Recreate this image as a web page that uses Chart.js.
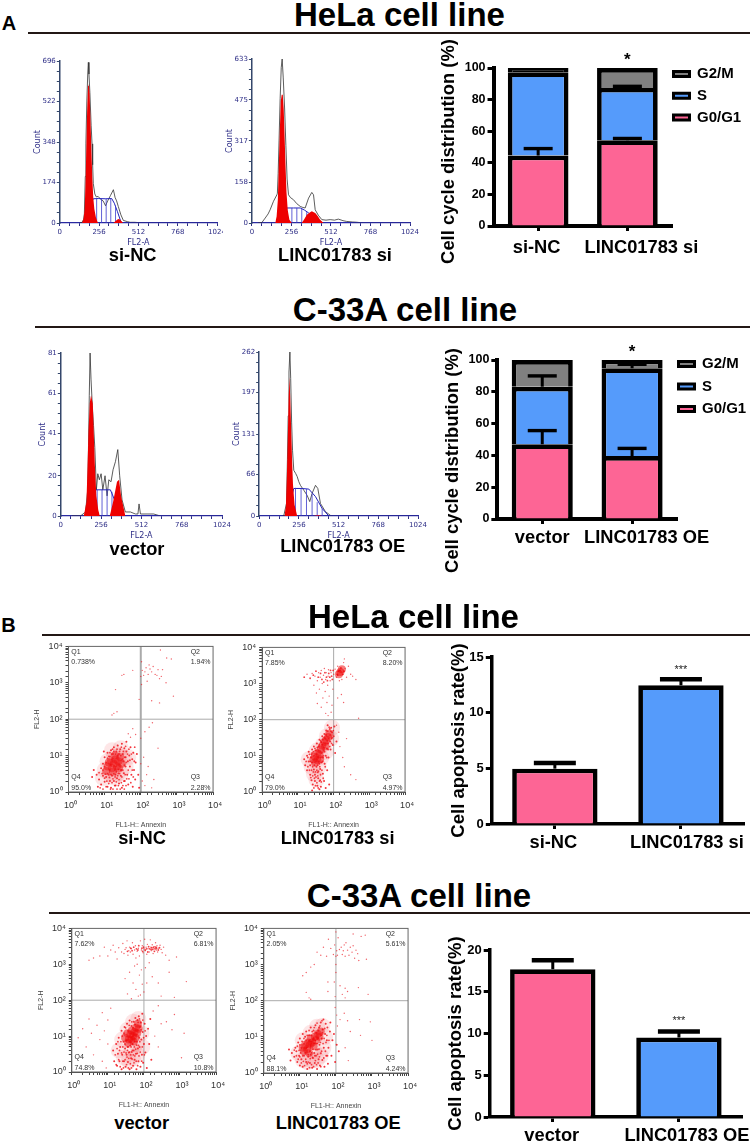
<!DOCTYPE html>
<html><head><meta charset="utf-8">
<script src="https://cdn.jsdelivr.net/npm/chart.js@4/dist/chart.umd.min.js"></script>
<style>
html,body{margin:0;padding:0;background:#fff;width:754px;height:1144px;overflow:hidden}
body{position:relative;font-family:"Liberation Sans",Arial,sans-serif;color:#000}
canvas{position:absolute}
.t{position:absolute;transform:translate(-50%,-50%);white-space:nowrap;font-weight:bold;line-height:1;z-index:5}
.r{position:absolute;background:#231815;height:2px}
</style></head><body>
<script>
/* ---------- DNA histograms: [channel, count] ---------- */
const hiLabelsY1=[0,174,348,522,696], hiLabelsY2=[0,158,317,475,633], hiLabelsY3=[0,20,41,61,81], hiLabelsY4=[0,66,131,197,262];
const hiLabelsX=[0,256,512,768,1024];
const trace1=[[130,0],[145,3],[155,15],[160,40],[166,200],[170,340],[176,520],[182,640],[186,690],[190,640],[196,560],[204,420],[210,340],[214,250],[218,170],[228,125],[238,112],[250,114],[262,105],[270,100],[282,95],[298,74],[312,95],[330,118],[349,143],[360,110],[370,95],[381,71],[398,35],[414,11],[440,6],[458,3],[490,3],[520,1],[560,0],[1024,0]];
const g1fit1=[[145,0],[155,20],[162,60],[168,180],[172,300],[178,480],[184,590],[188,600],[194,560],[200,440],[206,310],[212,190],[218,110],[225,60],[235,25],[245,5],[250,0]];
const sfit1=[[163,0],[178,35],[195,75],[218,104],[250,105],[300,104],[338,105],[355,85],[375,50],[397,7],[405,0],[1024,0]];
const g2fit1=[[350,0],[362,8],[375,15],[385,17],[395,13],[405,5],[412,0]];
const hatchX1=[240,272,302,332,363], hatchY1=[105,105,104,104,75];
const trace2=[[40,0],[65,2],[86,19],[105,35],[118,51],[140,84],[162,109],[165,115],[170,190],[176,320],[183,480],[190,600],[196,633],[203,560],[212,440],[220,300],[228,170],[237,109],[250,98],[269,90],[290,75],[313,64],[330,60],[345,58],[367,96],[388,118],[399,109],[410,51],[430,30],[453,13],[480,11],[507,13],[535,11],[560,15],[590,9],[614,6],[650,4],[679,3],[722,0],[1024,0]];
const g1fit2=[[151,0],[160,25],[168,90],[174,220],[180,340],[187,470],[193,495],[200,495],[206,440],[212,330],[218,220],[224,120],[232,50],[243,13],[259,0]];
const sfit2=[[162,0],[194,26],[226,58],[270,58],[313,58],[340,50],[367,39],[420,13],[453,0],[1024,0]];
const g2fit2=[[323,0],[340,15],[356,32],[372,40],[388,45],[410,39],[425,28],[442,13],[464,0]];
const hatchX2=[226,259,291,323,355], hatchY2=[58,58,58,56,42];
const trace3=[[70,0],[125,0],[157,2],[171,13],[176,35],[181,60],[186,81],[192,68],[200,55],[208,45],[216,34],[226,13],[235,21],[245,18],[256,21],[267,13],[281,20],[294,10],[305,18],[319,17],[332,23],[347,27],[362,33],[374,20],[389,8],[410,2],[442,2],[474,1],[490,1],[497,6],[506,1],[548,1],[590,1],[633,0],[1024,0]];
const g1fit3=[[146,0],[163,7],[170,25],[176,42],[184,56],[192,60],[203,56],[210,40],[216,26],[226,10],[238,3],[248,0]];
const sfit3=[[163,0],[188,5],[220,13],[270,13],[315,13],[347,7],[374,0],[1024,0]];
const g2fit3=[[311,0],[332,7],[357,17],[370,18],[383,10],[410,0]];
const hatchX3=[231,262,294,325], hatchY3=[13,13,13,12];
const trace4=[[150,0],[159,1],[176,20],[182,90],[187,160],[192,230],[198,262],[203,220],[209,150],[215,105],[223,73],[235,68],[245,63],[255,55],[266,49],[288,41],[309,33],[326,23],[341,36],[363,49],[378,44],[395,20],[427,7],[459,1],[480,0],[1024,0]];
const g1fit4=[[163,0],[172,15],[178,60],[184,120],[190,190],[195,222],[200,190],[206,140],[212,90],[218,50],[228,18],[245,0]];
const sfit4=[[176,0],[198,20],[223,44],[270,44],[320,43],[363,31],[406,12],[449,0],[1024,0]];
const g2fit4=[[350,0],[380,1],[410,0]];
const hatchX4=[234,270,305,341,374,406], hatchY4=[45,44,43,35,22,12];

/* ---------- Stacked cell-cycle bars ---------- */
const hCats=['si-NC','LINC01783 si'];
const hG0G1=[44.6,54.3], hS=[52.7,33.1], hG2M=[2.7,12.6];
const hErrG0G1=[49,55.4], hErrS=[null,88.4];
const cCats=['vector','LINC01783 OE'];
const cG0G1=[47,39.6], cS=[36.2,55.2], cG2M=[16.8,5.2];
const cErrG0G1=[55.6,44.4], cErrS=[90,97.3];
const starsStack=['','*'];

/* ---------- Apoptosis bars ---------- */
const apoHvals=[4.97,12.46], apoHerr=[5.48,13.0];
const apoCvals=[17.7,9.52], apoCerr=[18.76,10.24];
const apoHstars=['','***'], apoCstars=['','***'];

/* ---------- Annexin scatter: [FL1-H, FL2-H] ---------- */
const quadHsi=['0.738%','1.94%','2.28%','95.0%'], quadHl=['7.85%','8.20%','4.97%','79.0%'], quadCv=['7.62%','6.81%','10.8%','74.8%'], quadCo=['2.05%','5.61%','4.24%','88.1%'];
const dec={1:'10⁰',10:'10¹',100:'10²',1000:'10³',10000:'10⁴'};
const haloS1=[[10,4],[14,3],[18,2.5],[22,3],[28,3.2],[12,7],[18,9],[26,10],[34,9],[38,5],[9,2.4],[16,14],[28,16],[45,9]];
const coreS1=[[12,5],[15,7],[18,6],[20,8],[24,7],[16,4.5],[22,5],[27,9],[13,6.5],[19,10],[30,6],[11,3.8],[17,3.6],[25,4.4]];
const midS1=[[6,3],[7,2.2],[8,4.5],[8,1.6],[9,6],[9,2.8],[10,9],[10,1.9],[11,2.6],[12,12],[12,1.4],[13,3],[14,9.5],[14,2],[15,14],[15,1.3],[16,2.8],[17,11],[18,2],[18,17],[20,3],[20,1.5],[21,13],[22,2.4],[23,19],[24,3.2],[25,11],[25,1.7],[27,15],[28,2.8],[29,4],[30,21],[30,1.3],[32,11],[33,7],[34,3.3],[35,16],[36,2],[38,9],[38,5],[40,13],[40,24],[42,3],[44,7],[45,1.6],[48,10],[50,5],[52,17],[55,3],[58,8],[60,1.4],[62,12],[65,4],[70,2.2],[72,6.5],[78,11],[85,3],[90,1.3],[5,4],[4.5,2.6],[6.5,1.4],[9.5,13]];
const stipS1=[[7,3.4],[7.5,1.3],[8.5,3.2],[9,1.2],[9,4],[10,2.4],[10,5],[10.5,3.1],[11,1.4],[11,6.5],[11.5,2],[12,3.2],[12,8.5],[13,1.7],[13,9.5],[13.5,2.5],[14,4],[14,12],[14.5,1.2],[15,3],[15.5,11],[16,1.8],[16,8],[16.5,15],[17,2.3],[17,1.2],[18,3.2],[18,13],[19,1.5],[19,4],[19.5,2.6],[20,11],[21,1.9],[21,3.6],[22,1.2],[22,15],[23,2.8],[23,10],[24,1.5],[24,4.2],[25,2.2],[26,13],[26,3.2],[27,1.2],[28,4],[28,10],[29,1.8],[29,17],[30,2.6],[31,8],[32,1.5],[32,4],[33,13],[34,2],[35,5.5],[35,1.2],[36,9],[37,3],[38,18],[39,1.5],[40,6.5],[41,2.3],[43,11],[45,4],[47,2.3],[47,15],[50,7.5],[53,1.8],[55,11],[58,4],[62,2.6],[66,7],[68,17]];
const sparseS1=[[100,6],[110,2],[120,9],[130,1.5],[145,3],[160,5],[200,1.3],[230,2.2],[300,16],[52,32],[45,40],[60,55],[72,38],[100,30],[130,45],[170,60],[210,80],[16,130],[18,145],[22,160],[20,650],[30,1600],[34,1700],[60,2200],[100,1500],[105,3800],[110,2200],[120,1600],[130,2000],[140,2600],[160,1700],[180,2400],[200,2000],[220,2800],[250,1700],[280,1600],[300,2300],[330,1300],[370,1500],[400,2300],[500,1000],[520,4800],[700,4500],[800,430],[350,8000],[150,1100],[170,3100],[90,350],[105,900],[200,320],[330,280]];
const haloS2=[[20,8],[24,5],[28,3.2],[33,2.2],[38,5],[34,14],[45,9],[50,20],[60,13],[65,35],[85,30],[90,60]];
const coreS2=[[27,8],[30,9.5],[35,12],[40,11],[44,15],[48,19],[55,24],[62,28],[70,33],[75,40],[35,7.5],[42,8],[58,18],[30,6.5],[140,1800],[155,2100],[170,2500]];
const midS2=[[15,8],[16,5.5],[18,10],[18,4],[20,7],[20,13],[22,3],[22,5.5],[24,11],[24,2.1],[25,15],[26,1.6],[28,4.2],[28,18],[30,3],[30,2],[32,14],[33,5],[34,22],[35,1.5],[36,3.5],[37,2.4],[38,18],[40,6],[40,28],[42,4.3],[42,2.1],[44,1.4],[45,24],[46,6.5],[48,35],[50,9],[50,3.2],[52,14],[54,2],[55,40],[56,6],[58,30],[60,10],[62,50],[65,16],[66,4],[68,70],[70,22],[72,9],[75,1.6],[78,55],[80,25],[82,15],[85,60],[88,30],[90,45],[95,20],[100,35],[105,65],[110,12],[60,1.3],[40,1.2],[25,1.1],[120,25]];
const stipS2=[[17,7],[19,5],[19,9],[21,4],[21,11],[22,7],[23,2.5],[23,9],[24,4],[25,6.5],[25,12],[26,2.8],[26,5],[27,3.6],[27,13],[28,1.3],[28,10],[29,2.4],[29,5.5],[30,16],[31,3.6],[31,1.5],[32,7],[32,2.6],[33,11],[34,1.8],[34,4],[35,17],[36,5.5],[36,2.8],[37,9],[37,1.3],[38,3.8],[38,14],[39,7],[40,2],[40,20],[41,5],[42,13],[43,3],[43,26],[44,9],[45,1.9],[46,12],[47,4],[48,20],[49,7],[50,28],[51,2.4],[52,10],[53,17],[55,32],[56,13],[58,5],[60,22],[62,38],[64,9],[66,26],[68,48],[70,15],[72,30],[75,62],[78,18],[80,38],[84,48],[88,22],[92,32],[98,50],[15,1500],[22,1400],[27,1700],[32,2200],[37,1500],[43,1900],[47,1300],[53,1100],[57,2000],[63,1500],[67,1200],[73,1900],[78,1500],[82,2300],[88,1600],[92,1300],[97,2300],[125,1800],[135,2200],[160,2700],[180,1800],[195,2200],[130,1700],[150,2300]];
const sparseS2=[[18,1800],[25,1900],[28,900],[30,1600],[33,550],[35,1200],[38,2000],[40,700],[42,1500],[45,2300],[48,1000],[50,400],[52,1700],[55,2600],[58,600],[60,1300],[62,2000],[65,300],[68,900],[70,1600],[72,2400],[75,450],[80,1200],[85,2000],[90,250],[95,700],[60,150],[45,220],[70,130],[85,160],[35,280],[100,1800],[110,2500],[120,1500],[130,3000],[145,1200],[170,1300],[190,3800],[200,4800],[210,2600],[230,1500],[260,3000],[300,1800],[340,1600],[420,1300],[130,400],[165,500],[190,300],[500,110],[150,18],[180,9],[200,5],[230,30],[300,3],[420,2.2],[140,45],[120,70]];
const haloS3=[[20,4],[28,2.5],[38,2],[50,2.4],[65,3],[25,8],[35,15],[50,25],[70,30],[85,12],[90,5],[45,4.5],[60,6]];
const coreS3=[[30,9],[35,12],[38,8],[42,11],[46,14],[50,10],[55,13],[60,17],[65,12],[68,22],[72,16],[45,8],[58,9],[36,6.5],[52,7]];
const midS3=[[14,4],[15,2],[17,6],[18,1.5],[19,3.2],[20,9],[21,2],[22,5],[24,14],[24,1.2],[25,3],[27,7],[28,2],[29,18],[30,4.5],[31,1.4],[33,3],[34,22],[35,5],[36,1.9],[38,3.5],[40,27],[40,1.2],[42,5.5],[44,2.4],[45,19],[46,3.6],[48,6],[50,1.5],[52,25],[52,4],[55,2.2],[56,7],[58,32],[60,3.2],[62,1.2],[64,7],[66,28],[68,4.5],[70,2],[72,36],[74,9],[76,5],[78,18],[80,1.4],[82,24],[85,8],[88,3],[90,42],[92,13],[95,1.8],[100,6],[105,22],[110,3.5],[115,10],[120,1.3],[130,16],[140,6],[150,30],[160,2.2]];
const stipS3=[[16,3],[17,1.6],[18,4.5],[19,7],[20,2.2],[21,4],[22,1.4],[23,7],[24,3.4],[25,10],[26,2],[26,5],[27,1.3],[28,3.6],[28,12],[30,2.2],[30,6],[31,17],[32,3.4],[33,1.6],[33,7.5],[34,2.6],[35,4],[36,14],[37,1.3],[37,5],[38,2.4],[39,20],[40,3.6],[41,7],[42,1.7],[43,3],[44,5],[45,1.3],[46,25],[47,2.3],[48,4],[49,6],[50,17],[51,3],[53,1.8],[54,5],[56,2.8],[57,21],[59,4.3],[61,2],[63,5.6],[65,3.3],[67,1.5],[69,24],[71,5.5],[73,2.8],[75,30],[77,7],[79,3.6],[83,15],[87,2],[90,5],[93,28],[98,9],[103,3],[108,14],[35,2300],[43,2800],[47,2400],[52,3000],[62,2700],[68,2500],[72,3300],[88,2800],[92,2300],[98,3000],[108,2500],[118,2700],[128,2200],[135,3100],[145,2700],[158,2600],[165,2900],[175,2600],[185,3000],[195,2300],[205,2700],[215,3000],[225,2800],[250,2500],[270,2900]];
const sparseS3=[[1.5,9],[2,16],[2.5,5],[3,30],[3.5,12],[4,3],[5,20],[6,8],[7,45],[7,2],[8,14],[9,1.3],[10,28],[10,6],[12,60],[200,10],[250,5],[300,22],[180,50],[250,70],[420,25],[600,15],[700,40],[1100,2.5],[1300,12],[3,1300],[4,1500],[6,1700],[8,3000],[10,1700],[12,2500],[14,3400],[16,2200],[18,1400],[20,2900],[24,2200],[26,3800],[28,2000],[30,2600],[32,2900],[34,4500],[36,1800],[38,2400],[40,3000],[42,2200],[45,2700],[48,4000],[50,1900],[55,2500],[58,3300],[60,1500],[65,2300],[70,2800],[75,1700],[80,4500],[85,2500],[90,3300],[95,2100],[100,2700],[105,5000],[110,2400],[115,3000],[120,1900],[125,3600],[130,2700],[140,2200],[150,4800],[155,3000],[160,2400],[170,3500],[180,2000],[190,2700],[200,3100],[210,4000],[220,2500],[230,3300],[240,2200],[260,2800],[280,3400],[300,2600],[320,2100],[350,3000],[400,1800],[500,1300],[800,1600],[30,400],[35,150],[40,600],[45,110],[50,300],[55,900],[60,200],[65,1000],[70,130],[75,500],[80,140],[85,700],[90,280],[100,170],[110,800],[120,300],[140,1100],[170,450],[250,300],[300,130],[700,120],[1500,330],[500,600]];
const haloS4=[[9,3.5],[12,2.3],[16,2],[22,2.2],[30,2.3],[38,3],[12,8],[20,13],[30,19],[42,20],[50,10],[45,5],[25,4]];
const coreS4=[[12,5],[14,6],[16,4.5],[17,7],[19,6],[20,9],[22,7],[24,5.5],[26,10],[28,8],[31,12],[35,10],[38,14],[18,3.6],[13,4]];
const midS4=[[6,3.6],[7,2.8],[7.5,5],[8,4],[8.5,2],[9,7],[9.5,3],[10,1.6],[10,9],[11,2.4],[12,12],[12,1.5],[13,3],[14,10],[15,2],[15,14],[16,1.3],[17,2.8],[18,11],[19,1.9],[20,3.2],[20,18],[22,1.4],[23,2.6],[24,15],[25,3.6],[26,1.9],[27,21],[28,3],[29,13],[30,1.3],[31,4.5],[33,2.4],[34,18],[35,6],[36,1.6],[38,25],[38,3.5],[40,9],[42,2.3],[43,16],[45,30],[46,5],[48,1.5],[50,12],[52,23],[54,3],[56,8],[58,18],[60,1.8],[62,5],[68,14],[70,25],[75,3],[80,8],[88,12],[95,2],[105,6],[120,4],[5,4.5],[5.5,2.2]];
const stipS4=[[7,4.3],[8,3],[8.5,5.5],[9,2.4],[9.5,4.2],[10,6],[10,2.8],[10.5,3.6],[11,5],[11,1.9],[11.5,7.5],[12,3],[12.5,2.1],[13,6.5],[13,9],[13.5,1.6],[14,3.6],[14.5,2.4],[15,8],[15.5,5],[16,1.8],[16,11],[17,3.2],[17,2],[18,8],[18,15],[18.5,1.4],[19,4],[19.5,2.5],[20,5.5],[20.5,11],[21,1.7],[21,3.6],[22,14],[22.5,2.7],[23,4.6],[24,9],[24,1.5],[25,18],[25,6.5],[26,3],[27,2.2],[27,8],[28,13],[28,4.4],[29,1.7],[30,6.5],[30,24],[31,3.3],[32,9],[32,1.9],[33,15],[34,4.6],[35,2.8],[36,20],[37,7],[38,1.5],[39,11],[40,4],[41,28],[42,13],[44,6.5],[46,2.6],[47,9],[49,17],[51,4],[53,7],[56,11],[58,3],[64,8]];
const sparseS4=[[30,2200],[38,1800],[45,3000],[55,1700],[62,5000],[72,2800],[85,1900],[92,3500],[100,1700],[105,2400],[110,1800],[115,5500],[125,2600],[140,3000],[150,1900],[160,2400],[170,3500],[180,1700],[190,4000],[210,2500],[230,1800],[250,3000],[280,2200],[300,3300],[330,1500],[360,2500],[400,2000],[430,1300],[500,6000],[650,6500],[700,1400],[100,8000],[300,7000],[25,1000],[20,850],[15,600],[12,490],[100,600],[100,1000],[95,130],[90,330],[60,180],[60,330],[130,260],[150,150],[180,220],[210,180],[180,120],[15,170],[18,120],[20,110],[110,20],[130,30],[170,45],[210,28],[95,65],[105,40],[180,5],[220,2.2],[250,14],[450,30],[480,11],[900,26],[1000,8],[420,230],[780,150]];

/* ---------- colours ---------- */
const PINK='#fd6595', BLUE='#559bfb', GREY='#808080', RED='#ee0000', NAVY='#2d2d86', SLATE='#34476b';
const FONT='"Liberation Sans",Arial,sans-serif';
Chart.defaults.font.family=FONT; Chart.defaults.animation=false; Chart.defaults.responsive=false; Chart.defaults.devicePixelRatio=1;

const xy=a=>a.map(p=>({x:p[0],y:p[1]}));

/* plugins */
const errBars={id:'errBars',afterDatasetsDraw(ch,_,o){
  if(!o.series)return; const c=ch.ctx,y=ch.scales.y;
  o.series.forEach(s=>{const m=ch.getDatasetMeta(s.ds);
    s.values.forEach((v,i)=>{ if(v==null)return; const e=m.data[i],py=y.getPixelForValue(v);
      c.save();c.strokeStyle='#000';c.lineWidth=o.stem;c.beginPath();c.moveTo(e.x,e.y);c.lineTo(e.x,py);c.stroke();
      c.lineWidth=o.thick;c.beginPath();c.moveTo(e.x-o.cap/2,py);c.lineTo(e.x+o.cap/2,py);c.stroke();c.restore();});});}};
const stars={id:'stars',afterDatasetsDraw(ch,_,o){
  if(!o.labels)return; const c=ch.ctx,x=ch.scales.x,y=ch.scales.y;
  o.labels.forEach((l,i)=>{ if(!l)return; c.save();c.font=o.font;c.fillStyle=o.color||'#000';c.textAlign='center';c.textBaseline='middle';
    c.fillText(l,x.getPixelForValue(i),y.getPixelForValue(o.at[i])+o.dy);c.restore();});}};
const quad={id:'quad',afterDraw(ch,_,o){
  if(!o.values)return; const c=ch.ctx,a=ch.chartArea;
  c.save();c.strokeStyle='#666';c.lineWidth=1;c.strokeRect(a.left,a.top,a.right-a.left,a.bottom-a.top);
  c.font='7px '+FONT;c.fillStyle='#333';c.textBaseline='middle';c.textAlign='left';
  const L=a.left+2.8,R=a.right-22.4,T1=a.top+6,T2=a.top+16,B1=a.bottom-14.5,B2=a.bottom-4.3;
  c.fillText('Q1',L,T1);c.fillText(o.values[0],L,T2);c.fillText('Q2',R,T1);c.fillText(o.values[1],R,T2);
  c.fillText('Q4',L,B1);c.fillText(o.values[3],L,B2);c.fillText('Q3',R,B1);c.fillText(o.values[2],R,B2);c.restore();}};
const legendFit={id:'legendFit',beforeLayout(ch,_,o){
  if(o.width==null||!ch.legend||ch.legend._wrapped)return; const f=ch.legend.fit;
  ch.legend._wrapped=true; ch.legend.fit=function(){f.call(this);this.width=o.width;};},
  afterLayout(ch,_,o){ if(o.width==null)return; const l=ch.legend,p=l.options.labels.padding;
    const h=l.bottom-l.top;
    l.left=ch.chartArea.right+o.dx-p; l.top=o.firstY-p-l.options.labels.font.size/2; l.bottom=l.top+h+50;}};
Chart.register(errBars,stars,quad,legendFit);

function mount(box,m,cfg){
  const cv=document.createElement('canvas');
  const w=Math.round(box[2]-box[0]+m.l+m.r),h=Math.round(box[3]-box[1]+m.t+m.b);
  cv.width=w;cv.height=h;cv.style.left=(box[0]-m.l)+'px';cv.style.top=(box[1]-m.t)+'px';cv.style.width=w+'px';cv.style.height=h+'px';
  if(m.clipR)cv.style.clipPath='inset(0 '+m.clipR+'px 0 0)';
  document.body.appendChild(cv);
  cfg.options.layout={autoPadding:false,padding:{top:m.t,right:m.legend?0:m.r,left:0,bottom:0}};
  cfg.options.scales.x.afterFit=s=>{s.height=m.b;
    if(m.shift){s._computeLabelItems=function(a){const it=Chart.Scale.prototype._computeLabelItems.call(this,a);
      it.forEach((t,i)=>{t.options.translation=[t.options.translation[0]+(m.shift[i]||0),t.options.translation[1]];});return it;};}};
  cfg.options.scales.y.afterFit=s=>{s.width=m.l;
    if(m.dy){s.drawTitle=function(){const c=this.ctx;c.save();c.translate(0,m.dy);Chart.Scale.prototype.drawTitle.call(this);c.restore();};}};
  return new Chart(cv,cfg);
}
const noLegend={legend:{display:false},tooltip:{enabled:false}};
function withMinor(lbl){const out=[];for(let i=0;i<lbl.length;i++){out.push(lbl[i]);if(i<lbl.length-1){const d=(lbl[i+1]-lbl[i])/4;out.push(lbl[i]+d,lbl[i]+2*d,lbl[i]+3*d);}}return out;}

function histogram(box,titleCx,clipR,yLabels,trace,g1,g2,sf,hx,hy){
  const ml=box[0]-titleCx+2.5;
  const stems=[];hx.forEach((x,i)=>{stems.push({x,y:0},{x,y:hy[i]},{x,y:null});});
  mount(box,{l:ml,r:14,t:8,b:25,clipR},{type:'scatter',data:{datasets:[
    {data:xy(g1),showLine:true,pointRadius:0,borderWidth:0,backgroundColor:RED,fill:'origin',tension:0},
    {data:xy(g2),showLine:true,pointRadius:0,borderWidth:0,backgroundColor:RED,fill:'origin',tension:0},
    {data:stems,showLine:true,pointRadius:0,borderWidth:0.8,borderColor:'#3a3acc',spanGaps:false},
    {data:xy(sf),showLine:true,pointRadius:0,borderWidth:1,borderColor:'#2222bb',tension:0},
    {data:xy(trace),showLine:true,pointRadius:0,borderWidth:0.8,borderColor:'#333',tension:0}
  ]},options:{plugins:noLegend,scales:{
    x:{type:'linear',min:0,max:1024,afterBuildTicks:s=>{s.ticks=withMinor(hiLabelsX).map(value=>({value}));},
      grid:{drawOnChartArea:false,tickLength:3,tickColor:NAVY},border:{color:'#2a2aa0',width:1.2},
      ticks:{autoSkip:false,maxRotation:0,padding:2,color:NAVY,font:{size:7,family:'"DejaVu Sans"'},callback:v=>hiLabelsX.includes(v)?String(v):''},
      title:{display:true,text:'FL2-A',color:NAVY,padding:0,font:{size:8,family:'"DejaVu Sans"'}}},
    y:{type:'linear',min:0,max:yLabels[yLabels.length-1],afterBuildTicks:s=>{s.ticks=withMinor(yLabels).map(value=>({value}));},
      grid:{drawOnChartArea:false,tickLength:3,tickColor:SLATE},border:{color:SLATE,width:1.5},
      ticks:{autoSkip:false,padding:1,color:NAVY,font:{size:7,family:'"DejaVu Sans"'},callback:v=>yLabels.includes(v)?String(v):''},
      title:{display:true,text:'Count',color:NAVY,padding:0,font:{size:8,family:'"DejaVu Sans"'}}}
  }}});
}
histogram([60,61,216.7,223.3],35.7,9,hiLabelsY1,trace1,g1fit1,g2fit1,sfit1,hatchX1,hatchY1);
histogram([251.7,59.3,410,223.3],227.3,0,hiLabelsY2,trace2,g1fit2,g2fit2,sfit2,hatchX2,hatchY2);
histogram([60.3,353.3,221.7,516.7],40,0,hiLabelsY3,trace3,g1fit3,g2fit3,sfit3,hatchX3,hatchY3);
histogram([258.7,351.7,417.7,516],234,0,hiLabelsY4,trace4,g1fit4,g2fit4,sfit4,hatchX4,hatchY4);

const axisBold=(size)=>({size,weight:'bold',family:FONT});
const BW=4.7;
function stacked(box,titleCx,m,cats,g0,s,g2,e0,e1,starAt,firstY,rowPad,g2Fill){
  const lh=18.4*1.2;
  mount(box,{l:box[0]-titleCx+lh/2,r:m.r,t:m.t,b:m.b,dy:m.dy,legend:true,shift:m.shift},{type:'bar',data:{labels:cats,datasets:[
    {label:'G0/G1',data:g0,backgroundColor:PINK,borderColor:'#000',borderWidth:BW,barPercentage:.68,categoryPercentage:1},
    {label:'S',data:s,backgroundColor:BLUE,borderColor:'#000',borderWidth:BW,barPercentage:.68,categoryPercentage:1},
    {label:'G2/M',data:g2,backgroundColor:g2Fill,borderColor:'#000',borderWidth:BW,barPercentage:.68,categoryPercentage:1}
  ]},options:{plugins:{tooltip:{enabled:false},
    legend:{position:'right',align:'start',reverse:true,labels:{boxWidth:16,boxHeight:5,padding:rowPad,color:'#000',font:{size:15,weight:'bold'},
      generateLabels:c=>Chart.defaults.plugins.legend.labels.generateLabels(c).map(i=>({...i,lineWidth:3,fillStyle:i.text==='G2/M'?GREY:i.fillStyle}))}},
    legendFit:{width:m.r,dx:1.5,firstY:firstY-(box[1]-m.t)},
    errBars:{series:[{ds:0,values:e0},{ds:1,values:e1}],cap:29,thick:3.4,stem:3},
    stars:{labels:starsStack,at:starAt,font:'bold 17px '+FONT,dy:3}},
   scales:{
    x:{stacked:true,grid:{offset:false,drawOnChartArea:false,tickLength:5,tickWidth:3,tickColor:'#000'},border:{color:'#000',width:4},
      ticks:{autoSkip:false,maxRotation:0,padding:m.tp,color:'#000',font:axisBold(18.3)}},
    y:{stacked:true,min:0,max:100,grid:{drawOnChartArea:false,tickLength:6,tickWidth:3,tickColor:'#000'},border:{color:'#000',width:4},
      ticks:{stepSize:20,padding:2,color:'#000',font:axisBold(12.5)},
      title:{display:true,text:'Cell cycle distribution (%)',color:'#000',padding:0,font:axisBold(18.4)}}
   }}});
}
stacked([493.5,68.3,671.7,226.7],449,{r:82,t:32,b:60,dy:4.5,tp:6,shift:[-1.5,14]},hCats,hG0G1,hS,hG2M,hErrG0G1,hErrS,[null,106.7],74.3,6.8,['#000',GREY]);
stacked([497.3,360,677,519],453,{r:77,t:20,b:60,dy:21,tp:3,shift:[0,14.5]},cCats,cG0G1,cS,cG2M,cErrG0G1,cErrS,[null,106.7],364,7.5,GREY);

function apoptosis(box,titleCx,maxV,step,cats,vals,errs,starLbl,starAt,shift){
  const lh=18.5*1.2;
  mount(box,{l:box[0]-titleCx+lh/2,r:9,t:22,b:34,shift},{type:'bar',data:{labels:cats,datasets:[
    {data:vals,backgroundColor:[PINK,BLUE],borderColor:'#000',borderWidth:BW,barPercentage:.677,categoryPercentage:1}
  ]},options:{plugins:{...noLegend,errBars:{series:[{ds:0,values:errs}],cap:42,thick:4.5,stem:3},
    stars:{labels:starLbl,at:starAt,font:'11px '+FONT,color:'#222',dy:1}},
   scales:{
    x:{grid:{offset:false,drawOnChartArea:false,tickLength:5,tickWidth:3,tickColor:'#000'},border:{color:'#000',width:3.5},
      ticks:{autoSkip:false,maxRotation:0,padding:3,color:'#000',font:axisBold(18.3)}},
    y:{min:0,max:maxV,grid:{drawOnChartArea:false,tickLength:6,tickWidth:3,tickColor:'#000'},border:{color:'#000',width:3.5},
      ticks:{stepSize:step,padding:2,color:'#000',font:axisBold(13)},
      title:{display:true,text:'Cell apoptosis rate(%)',color:'#000',padding:0,font:axisBold(18.5)}}
   }}});
}
apoptosis([491.7,657.3,744,824.3],459,15,5,hCats,apoHvals,apoHerr,apoHstars,[null,13.9],[-1.5,6]);
apoptosis([489.3,950,741.7,1117.3],455.7,20,5,cCats,apoCvals,apoCerr,apoCstars,[null,11.6],[-1,8]);

function scatter(box,titleCx,halo,core,mid,stip,sparse,q,vw){
  const ml=box[0]-titleCx+4.2;
  const guideColor='#aaaaaa';
  mount(box,{l:ml,r:10,t:8,b:37},{type:'scatter',data:{datasets:[
    {data:xy(halo),pointRadius:8,borderWidth:0,backgroundColor:'rgba(240,50,60,.12)',clip:0},
    {data:xy(sparse),pointRadius:0.7,borderWidth:0,backgroundColor:'rgba(235,30,40,.7)'},
    {data:xy(mid),pointRadius:1,borderWidth:0,backgroundColor:'rgba(240,0,10,.8)'},
    {data:xy(stip),pointRadius:0.9,borderWidth:0,backgroundColor:'rgba(240,0,10,.75)'},
    {data:xy(core),pointRadius:4,borderWidth:0,backgroundColor:'rgba(240,0,0,.5)'},
    {data:[{x:1,y:100},{x:10000,y:100}],showLine:true,pointRadius:0,borderWidth:1,borderColor:guideColor},
    {data:[{x:100,y:1},{x:100,y:10000}],showLine:true,pointRadius:0,borderWidth:vw,borderColor:guideColor}
  ]},options:{plugins:{...noLegend,quad:{values:q}},scales:{
    x:{type:'logarithmic',min:1,max:10000,grid:{drawOnChartArea:false,tickLength:3,tickColor:'#444'},border:{color:'#444',width:1},
      ticks:{autoSkip:false,maxRotation:0,padding:5,labelOffset:2,color:'#333',font:{size:9},callback:v=>dec[v]||''},
      title:{display:true,text:'FL1-H:: Annexin',color:'#444',padding:0,font:{size:7}}},
    y:{type:'logarithmic',min:1,max:10000,grid:{drawOnChartArea:false,tickLength:3,tickColor:'#444'},border:{color:'#444',width:1},
      ticks:{autoSkip:false,padding:3,color:'#333',font:{size:9},callback:v=>dec[v]||''},
      title:{display:true,text:'FL2-H',color:'#444',padding:0,font:{size:7}}}
  }}});
}
scatter([68.3,646,215,791.7],37,haloS1,coreS1,midS1,stipS1,sparseS1,quadHsi,2);
scatter([261.7,647.3,406.7,792.3],230.7,haloS2,coreS2,midS2,stipS2,sparseS2,quadHl,1);
scatter([71.3,928.3,217.3,1072.7],40.7,haloS3,coreS3,midS3,stipS3,sparseS3,quadCv,1);
scatter([263.3,927.7,409.3,1072.7],232.7,haloS4,coreS4,midS4,stipS4,sparseS4,quadCo,1);

/* page text and section rules */
function text(s,x,y,size){const d=document.createElement('div');d.className='t';d.textContent=s;d.style.left=x+'px';d.style.top=y+'px';d.style.fontSize=size+'px';document.body.appendChild(d);}
function rule(x0,x1,y){const d=document.createElement('div');d.className='r';d.style.left=x0+'px';d.style.width=(x1-x0)+'px';d.style.top=(y-1)+'px';document.body.appendChild(d);}
text('A',9,23,20);text('B',8.5,624.5,20);
text('HeLa cell line',399.5,14,33);rule(28,750,33);
text('C-33A cell line',405,308.5,33);rule(35,750,327);
text('HeLa cell line',413.5,615.5,33);rule(42,750,634.7);
text('C-33A cell line',419,894.5,33);rule(49,750,913);
text('si-NC',132.7,255,18.3);text('LINC01783 si',335,255,18.3);
text('vector',137,549,18.3);text('LINC01783 OE',342.7,546,18.3);
text('si-NC',142,838,18.3);text('LINC01783 si',337.7,838,18.3);
text('vector',141.7,1123,18.3);text('LINC01783 OE',338.3,1123,18.3);
</script>
</body></html>
